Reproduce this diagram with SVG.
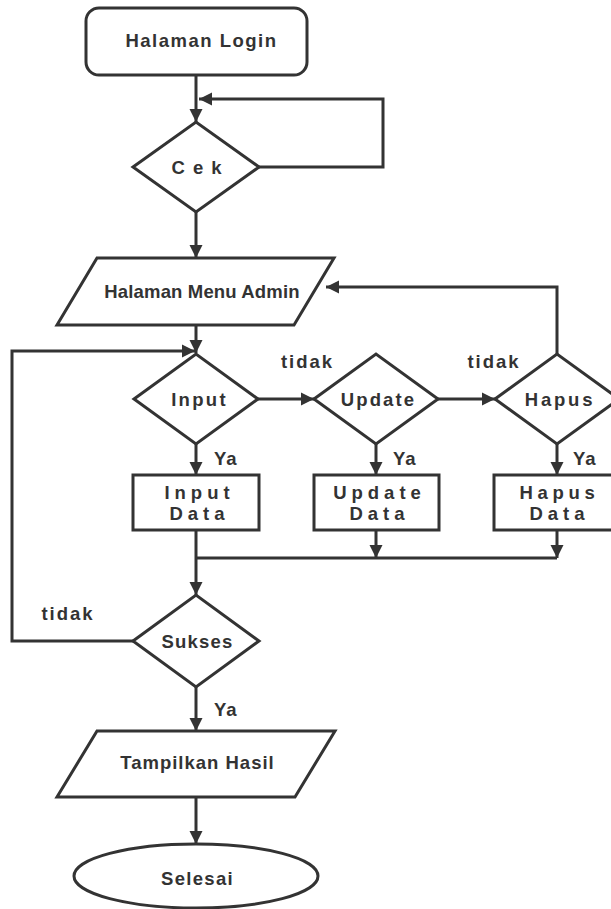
<svg xmlns="http://www.w3.org/2000/svg" width="611" height="909" viewBox="0 0 611 909">
<defs>
<marker id="ah" markerWidth="14" markerHeight="14" viewBox="0 0 14 14" refX="13" refY="7" orient="auto" markerUnits="userSpaceOnUse">
<path d="M0,0.5 L13,7 L0,13.5 Z" fill="#333"/>
</marker>
<style>
.s{fill:#fff;stroke:#333;stroke-width:3;stroke-linejoin:miter}
.c{fill:none;stroke:#333;stroke-width:3}
.a{marker-end:url(#ah)}
text{font-family:"Liberation Sans",Arial,sans-serif;font-weight:bold;font-size:18.5px;fill:#333}
.m{text-anchor:middle}
</style>
</defs>
<rect width="611" height="909" fill="#fff"/>
<g id="connectors">
<path class="c a" d="M196,75 V122"/>
<path class="c a" d="M259,167 H383 V99 H199"/>
<path class="c a" d="M196,212 V258"/>
<path class="c a" d="M196,325 V353"/>
<path class="c a" d="M134,641 H12 V351 H195"/>
<path class="c a" d="M258,399 H314"/>
<path class="c a" d="M438,399 H495"/>
<path class="c a" d="M557,354 V287 H326"/>
<path class="c a" d="M196,444 V475"/>
<path class="c a" d="M376,444 V475"/>
<path class="c a" d="M557,444 V475"/>
<path class="c a" d="M376,530 V558"/>
<path class="c a" d="M557,530 V558"/>
<path class="c" d="M196,558 H557"/>
<path class="c a" d="M196,530 V595"/>
<path class="c a" d="M196,687 V731"/>
<path class="c a" d="M196,797 V844"/>
<text x="307.5" y="368" class="m" letter-spacing="2">tidak</text>
<text x="494" y="368" class="m" letter-spacing="2">tidak</text>
<text x="68" y="620" class="m" letter-spacing="2">tidak</text>
<text x="214" y="465" letter-spacing="1">Ya</text>
<text x="393" y="465" letter-spacing="1">Ya</text>
<text x="573" y="465" letter-spacing="1">Ya</text>
<text x="214" y="716" letter-spacing="1">Ya</text>
</g>
<g id="login">
<rect class="s" x="86" y="8" width="221" height="67" rx="13"/>
<text x="201.5" y="47" class="m" letter-spacing="1.5">Halaman Login</text>
</g>
<g id="cek">
<polygon class="s" points="133,167 196,122 259,167 196,212"/>
<text x="200.5" y="174" class="m" letter-spacing="8">Cek</text>
</g>
<g id="menu">
<polygon class="s" points="97,258 334,258 294,325 57,325"/>
<text x="202" y="298" class="m" letter-spacing="0.15">Halaman Menu Admin</text>
</g>
<g id="input">
<polygon class="s" points="134,399 196,354 258,399 196,444"/>
<text x="199.5" y="406" class="m" letter-spacing="2.3">Input</text>
</g>
<g id="update">
<polygon class="s" points="314,399 376,354 438,399 376,444"/>
<text x="378.5" y="406" class="m" letter-spacing="2.1">Update</text>
</g>
<g id="hapus">
<polygon class="s" points="495,399 557,354 619,399 557,444"/>
<text x="560" y="406" class="m" letter-spacing="2.8">Hapus</text>
</g>
<g id="inputdata">
<rect class="s" x="133" y="475" width="126" height="55"/>
<text x="199.5" y="499" class="m" letter-spacing="5">Input</text>
<text x="199.5" y="519.5" class="m" letter-spacing="5">Data</text>
</g>
<g id="updatedata">
<rect class="s" x="314" y="475" width="125" height="55"/>
<text x="379.5" y="499" class="m" letter-spacing="5">Update</text>
<text x="379.5" y="519.5" class="m" letter-spacing="5">Data</text>
</g>
<g id="hapusdata">
<rect class="s" x="494" y="475" width="125" height="55"/>
<text x="559.5" y="499" class="m" letter-spacing="4.7">Hapus</text>
<text x="559.5" y="519.5" class="m" letter-spacing="5">Data</text>
</g>
<g id="sukses">
<polygon class="s" points="133,641 196,595 259,641 196,687"/>
<text x="197.5" y="647.5" class="m" letter-spacing="1.2">Sukses</text>
</g>
<g id="tampilkan">
<polygon class="s" points="97,731 335,731 295,797 57,797"/>
<text x="197.5" y="769" class="m" letter-spacing="1">Tampilkan Hasil</text>
</g>
<g id="selesai">
<ellipse class="s" cx="196" cy="876" rx="122" ry="32"/>
<text x="197.5" y="885" class="m" letter-spacing="1.3">Selesai</text>
</g>
</svg>
